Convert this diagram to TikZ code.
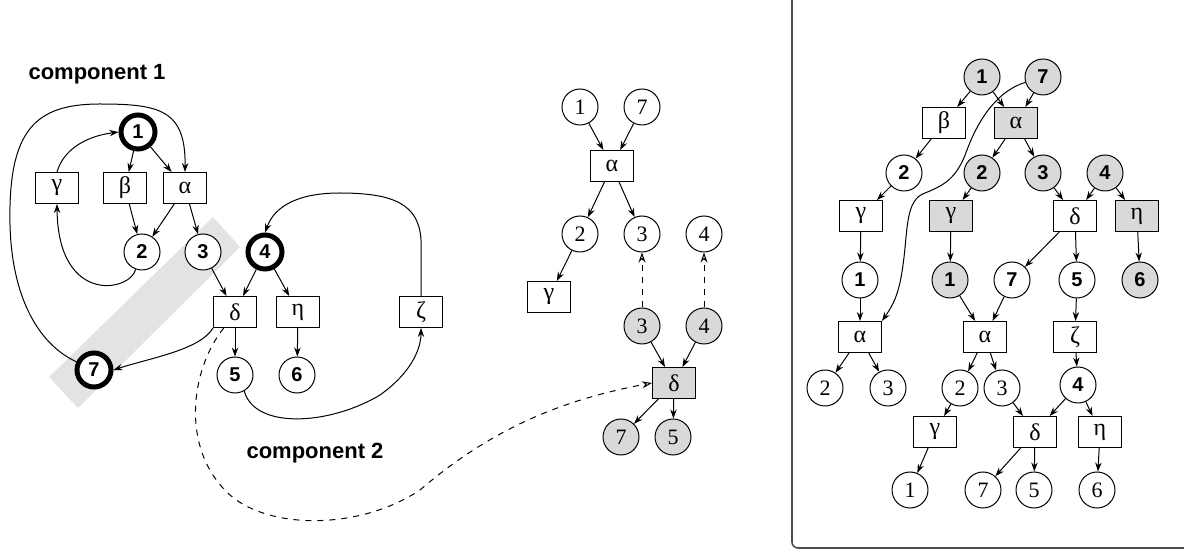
\documentclass[tikz,border=0pt]{standalone}
\usepackage{fontspec}
\setmainfont{Liberation Serif}
\newfontfamily\hv{Liberation Sans}
\usetikzlibrary{arrows.meta}
\begin{document}
\begin{tikzpicture}[x=0.5pt,y=-0.5pt,
  >={Stealth[length=4.5pt,width=3.2pt]},
  bn/.style={circle,draw,fill=white,minimum size=18pt,inner sep=0pt,line width=0.5pt,font=\hv\bfseries\fontsize{10}{12}\selectfont},
  tn/.style={bn,line width=2.5pt,minimum size=17pt},
  sn/.style={circle,draw,fill=white,minimum size=18pt,inner sep=0pt,line width=0.5pt,font=\fontsize{11}{13}\selectfont},
  gb/.style={rectangle,draw,fill=white,minimum width=21.5pt,minimum height=15.5pt,inner sep=0pt,line width=0.5pt,font=\fontsize{12}{14}\selectfont},
  sh/.style={fill=gray!30},
  lab/.style={font=\hv\bfseries\fontsize{11}{13}\selectfont},
  edge/.style={->,line width=0.5pt},
  dedge/.style={dashed,-{Stealth[open,length=5pt,width=3.5pt]},line width=0.5pt}]
\useasboundingbox (0,0) rectangle (1184,550);

% right frame
\draw[line width=0.8pt,draw=gray!60!black,rounded corners=3pt] (792,-20) rectangle (1210,548);

% grey band
\fill[gray!22] (213,217) -- (240,247) -- (78,408) -- (49,377) -- cycle;

% labels
\node[lab] (c1) at (97,74) {component 1};
\node[lab] (c2) at (315,453) {component 2};

% ---------- left graph ----------
\node[tn] (L1) at (138,132) {1};
\node[gb] (Lg) at (57,188) {γ};
\node[gb] (Lb) at (125,188) {β};
\node[gb] (La) at (185,188) {α};
\node[bn] (L2) at (142,252) {2};
\node[bn] (L3) at (203,252) {3};
\node[tn] (L4) at (265,252) {4};
\node[gb] (Ld) at (235,312) {δ};
\node[gb] (Le) at (298,312) {η};
\node[gb] (Lz) at (421,312) {ζ};
\node[bn] (L5) at (235,375) {5};
\node[bn] (L6) at (297,375) {6};
\node[tn] (L7) at (94,370) {7};

\draw[edge] (L1) -- (Lb);
\draw[edge] (L1) -- (La);
\draw[edge] (Lb) -- (L2);
\draw[edge] (La) -- (L2);
\draw[edge] (La) -- (L3);
\draw[edge] (L3) -- (Ld);
\draw[edge] (L4) -- (Ld);
\draw[edge] (L4) -- (Le);
\draw[edge] (Ld) -- (L5);
\draw[edge] (Le) -- (L6);
\draw[edge] (Lg.north) .. controls (64,148) and (88,136) .. (L1.west);
\draw[edge] (L2.250) .. controls (130,292) and (58,305) .. (Lg.south);
\draw[edge] (L7.155) .. controls (40,345) and (12,300) .. (10,225)
  .. controls (8,130) and (35,104) .. (100,104)
  .. controls (160,104) and (186,110) .. (La.north);
\draw[edge] (Ld.south west) .. controls (200,350) and (150,358) .. (L7.east);
\draw[edge] (Lz.north) -- (421,240) .. controls (419,205) and (395,193) .. (340,193)
  .. controls (300,193) and (275,205) .. (L4.north);
\draw[edge] (L5.300) .. controls (255,430) and (330,425) .. (380,395)
  .. controls (415,370) and (421,345) .. (Lz.south);

% ---------- middle tree ----------
\node[sn] (M1) at (580,107) {1};
\node[sn] (M7) at (642,107) {7};
\node[gb] (Ma) at (612,166) {α};
\node[sn] (M2) at (580,234) {2};
\node[sn] (M3) at (642,234) {3};
\node[sn] (M4) at (704,234) {4};
\node[gb] (Mg) at (549,297) {γ};
\node[sn,sh] (Ms3) at (642,326) {3};
\node[sn,sh] (Ms4) at (704,326) {4};
\node[gb,sh] (Md) at (674,383) {δ};
\node[sn,sh] (Ms7) at (621,437) {7};
\node[sn,sh] (Ms5) at (673,437) {5};

\draw[edge] (M1) -- (Ma);
\draw[edge] (M7) -- (Ma);
\draw[edge] (Ma) -- (M2);
\draw[edge] (Ma) -- (M3);
\draw[edge] (M2) -- (Mg);
\draw[edge] (Ms3) -- (Md);
\draw[edge] (Ms4) -- (Md);
\draw[edge] (Md) -- (Ms7);
\draw[edge] (Md) -- (Ms5);
\draw[dedge] (Ms3) -- (M3);
\draw[dedge] (Ms4) -- (M4);
\draw[dedge] (Ld.235) .. controls (190,370) and (180,450) .. (230,495)
  .. controls (270,530) and (360,530) .. (420,490)
  .. controls (490,430) and (560,400) .. (Md.west);

% ---------- right tree ----------
\node[bn,sh] (R1) at (982,77) {1};
\node[bn,sh] (R7) at (1043,77) {7};
\node[gb] (Rb) at (944,123) {β};
\node[gb,sh] (Ra) at (1016,123) {α};
\node[bn] (R2w) at (904,173) {2};
\node[bn,sh] (R2s) at (982,173) {2};
\node[bn,sh] (R3s) at (1043,173) {3};
\node[bn,sh] (R4s) at (1105,173) {4};
\node[gb] (Rgw) at (861,216) {γ};
\node[gb,sh] (Rgs) at (951,216) {γ};
\node[gb] (Rdw) at (1075,216) {δ};
\node[gb,sh] (Res) at (1137,216) {η};
\node[bn] (R1w) at (860,280) {1};
\node[bn,sh] (R1s) at (950,280) {1};
\node[bn] (R7w) at (1012,280) {7};
\node[bn] (R5w) at (1077,280) {5};
\node[bn,sh] (R6s) at (1140,280) {6};
\node[gb] (RA1) at (860,337) {α};
\node[gb] (RA2) at (985,337) {α};
\node[gb] (Rz) at (1075,337) {ζ};
\node[sn] (Rx2) at (825,388) {2};
\node[sn] (Rx3) at (888,388) {3};
\node[sn] (Ry2) at (960,388) {2};
\node[sn] (Ry3) at (1002,388) {3};
\node[bn] (R4) at (1078,385) {4};
\node[gb] (Rg) at (935,432) {γ};
\node[gb] (Rd) at (1035,432) {δ};
\node[gb] (Re) at (1100,432) {η};
\node[sn] (Rz1) at (910,490) {1};
\node[sn] (Rz7) at (983,490) {7};
\node[sn] (Rz5) at (1034,490) {5};
\node[sn] (Rz6) at (1097,490) {6};

\draw[edge] (R1) -- (Rb);
\draw[edge] (R1) -- (Ra);
\draw[edge] (R7) -- (Ra);
\draw[edge] (Rb) -- (R2w);
\draw[edge] (Ra) -- (R2s);
\draw[edge] (Ra) -- (R3s);
\draw[edge] (R2w) -- (Rgw);
\draw[edge] (R2s) -- (Rgs);
\draw[edge] (R3s) -- (Rdw);
\draw[edge] (R4s) -- (Rdw);
\draw[edge] (R4s) -- (Res);
\draw[edge] (Rgw) -- (R1w);
\draw[edge] (Rgs) -- (R1s);
\draw[edge] (Rdw) -- (R7w);
\draw[edge] (Rdw) -- (R5w);
\draw[edge] (Res) -- (R6s);
\draw[edge] (R1w) -- (RA1);
\draw[edge] (R1s) -- (RA2);
\draw[edge] (R7w) -- (RA2);
\draw[edge] (R5w) -- (Rz);
\draw[edge] (RA1) -- (Rx2);
\draw[edge] (RA1) -- (Rx3);
\draw[edge] (RA2) -- (Ry2);
\draw[edge] (RA2) -- (Ry3);
\draw[edge] (Rz) -- (R4);
\draw[edge] (R4) -- (Rd);
\draw[edge] (Ry3) -- (Rd);
\draw[edge] (R4) -- (Re);
\draw[edge] (Ry2) -- (Rg);
\draw[edge] (Rg) -- (Rz1);
\draw[edge] (Rd) -- (Rz7);
\draw[edge] (Rd) -- (Rz5);
\draw[edge] (Re) -- (Rz6);
\draw[edge] (R7.197) .. controls (1000,90) and (980,115) .. (967,150)
  .. controls (957,178) and (945,185) .. (925,193)
  .. controls (905,200) and (908,230) .. (903,265)
  .. controls (899,295) and (893,305) .. (RA1.north east);
\end{tikzpicture}
\end{document}
